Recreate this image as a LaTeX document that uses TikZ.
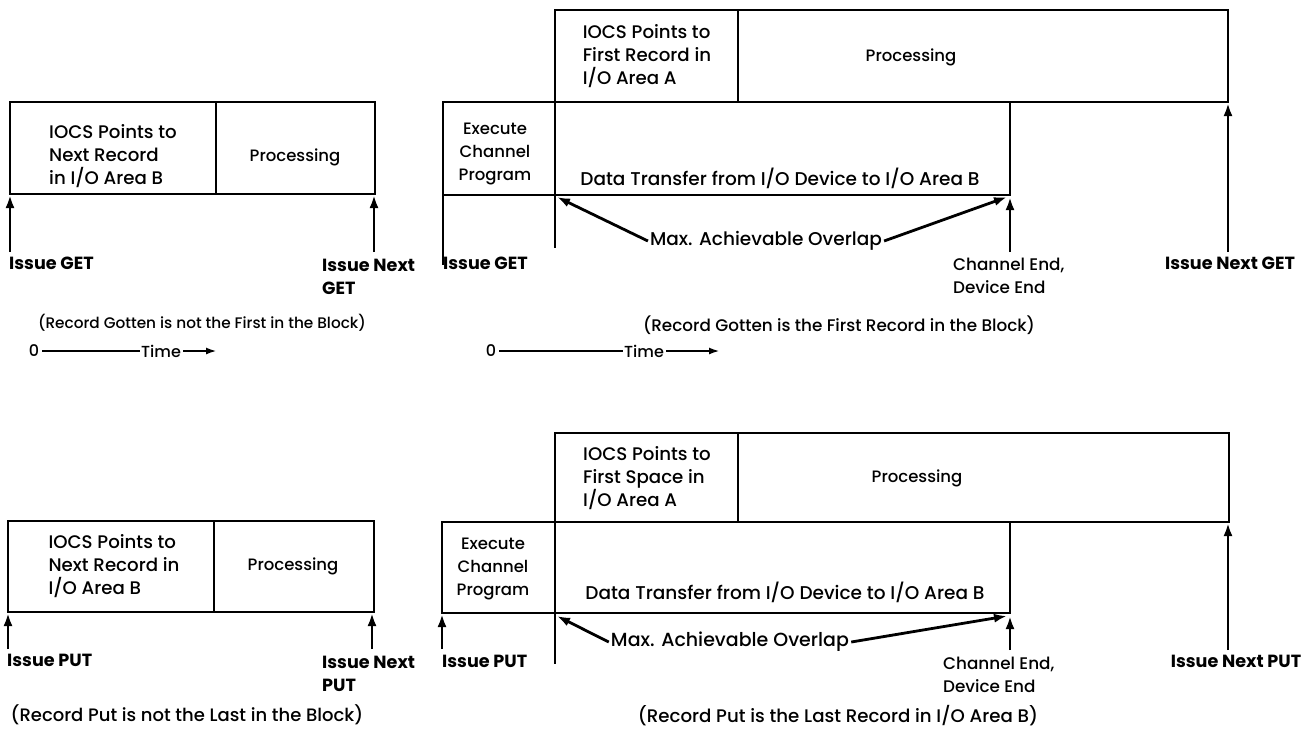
\documentclass[tikz,border=0pt]{standalone}
\usepackage{fontspec}
\setmainfont{Poppins Medium}[BoldFont=Poppins Bold]
\usetikzlibrary{arrows.meta}
\tikzset{
  ln/.style={line width=1.8pt, line cap=rect},
  arr/.style={line width=2.8pt, -{Latex[length=13pt,width=9pt]}},
  tarr/.style={line width=2.4pt, -{Latex[length=11pt,width=7pt]}},
  fs/.style={font=\fontsize{#1}{23}\selectfont},
  txt/.style={inner sep=0pt, fs=17.5, align=left},
  ctxt/.style={txt, align=center},
  lbl/.style={inner sep=0pt, font=\fontsize{17.6}{23}\selectfont\bfseries, align=left},
}
\begin{document}
\begin{tikzpicture}[x=1pt,y=-1pt]
\useasboundingbox (0,0) rectangle (1306,732);

% ---------------- top left (GET, not first) ----------------
\draw[ln] (10,102) rectangle (375,194);
\draw[ln] (216,102) -- (216,194);
\node[txt, fs=18.2] (tlA) at (113,156) {IOCS Points to\\Next Record\\in I/O Area B};
\node[txt, fs=16.5] (tlP) at (295,157) {Processing};
\node[lbl, anchor=west] (tlG) at (9,263) {Issue GET};
\node[lbl, anchor=west] (tlN) at (322,276.5) {Issue Next\\GET};
\coordinate (tlGs) at (10,252); \coordinate (tlGe) at (10,195);
\coordinate (tlNs) at (374,252); \coordinate (tlNe) at (374,195);
\draw[arr] (tlGs) -- (tlGe);
\draw[arr] (tlNs) -- (tlNe);
\node[txt, fs=15.3] (tlC) at (202,323) {(Record Gotten is not the First in the Block)};

% time axis 1
\node[txt, fs=16] (t0a) at (34,351) {0};
\node[txt, fs=16] (tTa) at (161,351) {Time};
\coordinate (tEa) at (217,351);
\draw[line width=1.8pt] ([xshift=3pt]t0a.east) -- ([xshift=-1pt]tTa.west);
\draw[tarr] ([xshift=2pt]tTa.east) -- (tEa);

% ---------------- top right (GET, first) ----------------
\draw[ln] (555,10) -- (1228,10) -- (1228,102);
\draw[ln] (738,10) -- (738,102);
\draw[ln] (443,102) -- (1228,102);
\draw[ln] (555,10) -- (555,247);
\draw[ln] (443,264) -- (443,102);
\draw[ln] (443,195) -- (1010,195) -- (1010,102);
\node[txt, fs=18.2] (trA) at (647,56) {IOCS Points to\\First Record in\\I/O Area A};
\node[txt, fs=16.5] (trP) at (911,57) {Processing};
\node[ctxt, fs=16.5] (trE) at (495,154) {Execute\\Channel\\Program};
\node[txt, fs=18.5] (trD) at (780,178) {Data Transfer from I/O Device to I/O Area B};
\node[txt, fs=18.5] (trM) at (766,241) {Max. Achievable Overlap};
\coordinate (trMl) at (557,197); \coordinate (trMr) at (1007,197);
\draw[arr] ([xshift=-2pt]trM.west) -- (trMl);
\draw[arr] ([xshift=2pt]trM.east) -- (trMr);
\node[lbl, anchor=west] (trG) at (443,263) {Issue GET};
\node[txt, fs=16.8, anchor=west] (trCE) at (953,275.5) {Channel End,\\Device End};
\coordinate (trCs) at (1010,252); \coordinate (trCe) at (1010,197);
\draw[arr] (trCs) -- (trCe);
\node[lbl] (trN) at (1230,263) {Issue Next GET};
\coordinate (trNs) at (1228,252); \coordinate (trNe) at (1228,103);
\draw[arr] (trNs) -- (trNe);
\node[txt, fs=16.8] (trC) at (839,325) {(Record Gotten is the First Record in the Block)};

% time axis 2
\node[txt, fs=16] (t0b) at (491,351) {0};
\node[txt, fs=16] (tTb) at (644,351) {Time};
\coordinate (tEb) at (720,351);
\draw[line width=1.8pt] ([xshift=3pt]t0b.east) -- ([xshift=-1pt]tTb.west);
\draw[tarr] ([xshift=2pt]tTb.east) -- (tEb);

% ---------------- bottom left (PUT, not last) ----------------
\draw[ln] (8,521) rectangle (374,612);
\draw[ln] (214,521) -- (214,612);
\node[txt, fs=18.2] (blA) at (114,566) {IOCS Points to\\Next Record in\\I/O Area B};
\node[txt, fs=16.5] (blP) at (293,566) {Processing};
\node[lbl, anchor=west] (blG) at (7,660) {Issue PUT};
\node[lbl, anchor=west] (blN) at (322,673.5) {Issue Next\\PUT};
\coordinate (blGs) at (8,649); \coordinate (blGe) at (8,613);
\coordinate (blNs) at (372,649); \coordinate (blNe) at (372,613);
\draw[arr] (blGs) -- (blGe);
\draw[arr] (blNs) -- (blNe);
\node[txt, fs=18] (blC) at (187,715) {(Record Put is not the Last in the Block)};

% ---------------- bottom right (PUT, last) ----------------
\draw[ln] (555,433) -- (1229,433) -- (1229,522);
\draw[ln] (738,433) -- (738,522);
\draw[ln] (442,522) -- (1229,522);
\draw[ln] (555,433) -- (555,663);
\draw[ln] (442,522) -- (442,613) -- (1010,613) -- (1010,522);
\node[txt, fs=18.2] (brA) at (647,478) {IOCS Points to\\First Space in\\I/O Area A};
\node[txt, fs=16.5] (brP) at (917,478) {Processing};
\node[ctxt, fs=16.5] (brE) at (493,569) {Execute\\Channel\\Program};
\node[txt, fs=18.5] (brD) at (785,592) {Data Transfer from I/O Device to I/O Area B};
\node[txt, fs=19] (brM) at (730,642) {Max. Achievable Overlap};
\coordinate (brMl) at (557,616); \coordinate (brMr) at (1007,616);
\draw[arr] ([xshift=-2pt]brM.west) -- (brMl);
\draw[arr] ([xshift=2pt]brM.east) -- (brMr);
\node[lbl, anchor=west] (brG) at (442,661) {Issue PUT};
\coordinate (brGs) at (442,649); \coordinate (brGe) at (442,614);
\draw[arr] (brGs) -- (brGe);
\node[txt, fs=16.8, anchor=west] (brCE) at (943,674.5) {Channel End,\\Device End};
\coordinate (brCs) at (1010,650); \coordinate (brCe) at (1010,616);
\draw[arr] (brCs) -- (brCe);
\node[lbl] (brN) at (1236,661) {Issue Next PUT};
\coordinate (brNs) at (1228,650); \coordinate (brNe) at (1228,523);
\draw[arr] (brNs) -- (brNe);
\node[txt, fs=18.2] (brC) at (838,716) {(Record Put is the Last Record in I/O Area B)};
\end{tikzpicture}
\end{document}
